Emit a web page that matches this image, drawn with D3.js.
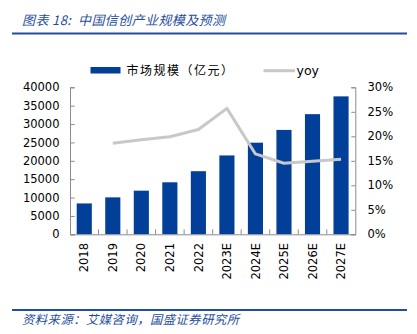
<!DOCTYPE html>
<html><head><meta charset="utf-8">
<script src="https://cdn.jsdelivr.net/npm/d3@7"></script>
<style>body{margin:0;background:#fff}svg{display:block}</style>
</head><body>
<script>
const categories = ["2018","2019","2020","2021","2022","2023E","2024E","2025E","2026E","2027E"];
const marketSize = [8400, 10050, 11870, 14150, 17170, 21460, 24930, 28400, 32690, 37530];
const yoy = [null, 18.6, 19.3, 19.9, 21.4, 25.7, 16.4, 14.5, 14.9, 15.3];
const leftTicks = [0,5000,10000,15000,20000,25000,30000,35000,40000];
const rightTicks = [0,5,10,15,20,25,30];
const titleText = "图表 18:  中国信创产业规模及预测";
const sourceText = "资料来源：艾媒咨询，国盛证券研究所";
const legendBar = "市场规模（亿元）";
const legendLine = "yoy";

const W = 417, H = 334;
const svg = d3.select("body").append("svg").attr("width", W).attr("height", H);
const blue = "#023f98", gray = "#c8c8c8", titleBlue = "#1f4e9c";
const cjk = "'Noto Sans CJK SC', sans-serif";
const num = "'DejaVu Sans', sans-serif";

// title and rules
svg.append("text").attr("x", 22).attr("y", 24.5).text(titleText)
  .attr("font-family", cjk).attr("font-size", 13).attr("letter-spacing", 0.4)
  .attr("font-style", "italic").attr("fill", titleBlue).style("white-space", "pre");
svg.append("rect").attr("x", 12).attr("y", 32.5).attr("width", 395).attr("height", 2).attr("fill", "#1f4e9c");
svg.append("rect").attr("x", 12).attr("y", 309).attr("width", 395).attr("height", 2).attr("fill", "#1f4e9c");
svg.append("text").attr("x", 22).attr("y", 323.5).text(sourceText)
  .attr("font-family", cjk).attr("font-size", 12.3).attr("letter-spacing", 0.5)
  .attr("font-style", "italic").attr("fill", titleBlue);

const x0 = 70, x1 = 355.3, yTop = 87.3, yBot = 234.3;
const x = d3.scaleBand().domain(categories).range([x0, x1]).paddingInner(0.47).paddingOuter(0.235);
const xb = d3.scaleBand().domain(categories).range([x0, x1]);
const yL = d3.scaleLinear().domain([0, 40000]).range([yBot, yTop]);
const yR = d3.scaleLinear().domain([0, 30]).range([yBot, yTop]);

// bars
svg.append("g").selectAll("rect").data(categories).join("rect")
  .attr("x", d => x(d)).attr("width", x.bandwidth())
  .attr("y", (d,i) => yL(marketSize[i])).attr("height", (d,i) => yBot - yL(marketSize[i]))
  .attr("fill", blue);

// axes
const axisColor = "#8c8c8c";
const gl = svg.append("g").attr("transform", `translate(${x0},0)`)
  .call(d3.axisRight(yL).tickValues(leftTicks).tickSize(4.7).tickFormat(""));
const gr = svg.append("g").attr("transform", `translate(${x1},0)`)
  .call(d3.axisLeft(yR).tickValues(rightTicks).tickSize(4).tickFormat(""));
const gx = svg.append("g").attr("transform", `translate(0,${yBot})`)
  .call(d3.axisTop(xb).tickSize(0).tickFormat(""));
[gl, gr, gx].forEach(g => { g.selectAll("path,line").attr("stroke", axisColor).attr("stroke-width", 1); });
// x category boundary ticks
svg.append("g").selectAll("line").data(categories.slice(1)).join("line")
  .attr("x1", d => xb(d)).attr("x2", d => xb(d)).attr("y1", yBot).attr("y2", yBot - 5)
  .attr("stroke", axisColor);

// tick labels
svg.append("g").selectAll("text").data(leftTicks).join("text")
  .attr("x", 59.5).attr("y", d => yL(d)).attr("dy", "0.36em").attr("text-anchor", "end")
  .attr("font-family", num).attr("font-size", 11.5).attr("fill", "#000").text(d => d);
svg.append("g").selectAll("text").data(rightTicks).join("text")
  .attr("x", 367.5).attr("y", d => yR(d)).attr("dy", "0.36em").attr("text-anchor", "start")
  .attr("font-family", num).attr("font-size", 11.5).attr("fill", "#000").text(d => d + "%");
svg.append("g").selectAll("text").data(categories).join("text")
  .attr("transform", d => `translate(${xb(d) + xb.bandwidth()/2},243) rotate(-90)`)
  .attr("text-anchor", "end").attr("dy", "0.36em")
  .attr("font-family", num).attr("font-size", 11.5).attr("fill", "#000").text(d => d);

// yoy line
const line = d3.line().defined(d => d.v != null)
  .x(d => xb(d.c) + xb.bandwidth()/2).y(d => yR(d.v));
svg.append("path").datum(categories.map((c,i) => ({c, v: yoy[i]})))
  .attr("d", line).attr("fill", "none").attr("stroke", gray).attr("stroke-width", 3)
  .attr("stroke-linejoin", "round");

// legend
svg.append("rect").attr("x", 90.5).attr("y", 67).attr("width", 30).attr("height", 6.5).attr("fill", blue);
svg.append("text").attr("x", 126.5).attr("y", 70.5).attr("dy", "0.36em").text(legendBar)
  .attr("font-family", cjk).attr("font-size", 12).attr("letter-spacing", 1.5).attr("fill", "#000");
svg.append("line").attr("x1", 263.5).attr("x2", 295).attr("y1", 70.7).attr("y2", 70.7)
  .attr("stroke", gray).attr("stroke-width", 3);
svg.append("text").attr("x", 296.5).attr("y", 70.5).attr("dy", "0.36em").text(legendLine)
  .attr("font-family", num).attr("font-size", 12.5).attr("fill", "#000");
</script>
</body></html>
